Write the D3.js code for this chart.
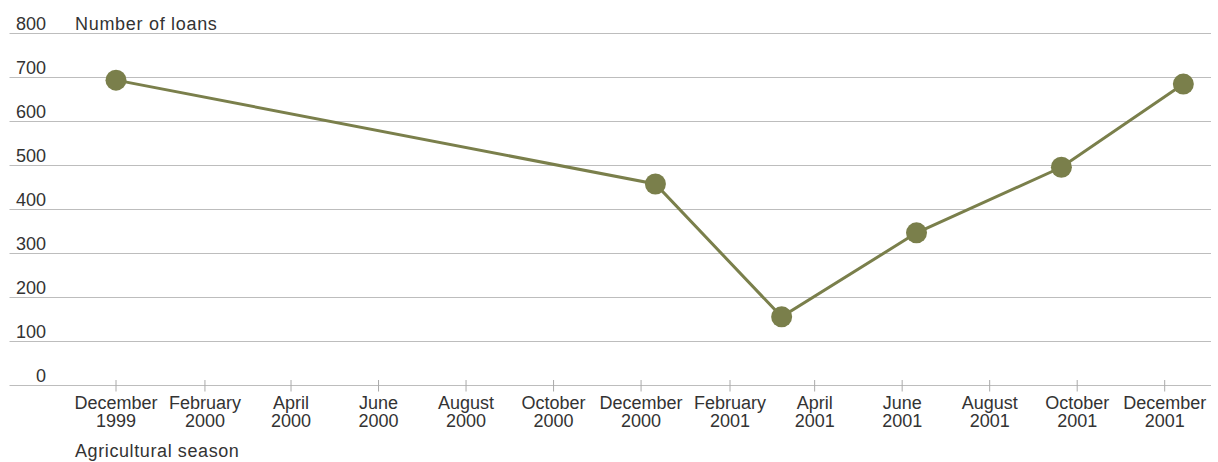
<!DOCTYPE html>
<html>
<head>
<meta charset="UTF-8" />
<title>Number of loans</title>
<script src="https://d3js.org/d3.v7.min.js"></script>
<style>
  body { margin: 0; background: #fff; }
  text { font-family: "Liberation Sans", Arial, Helvetica, sans-serif; fill: #333; }
</style>
</head>
<body>
<script type="text/javascript">

// loans per survey date
var dates = ["1999-12-01", "2000-12-11", "2001-03-09", "2001-06-11", "2001-09-20", "2001-12-14"]
var loans = [694, 458, 156, 347, 496, 685]

var tickDates = ["1999-12-01", "2000-02-01", "2000-04-01", "2000-06-01", "2000-08-01", "2000-10-01",
                 "2000-12-01", "2001-02-01", "2001-04-01", "2001-06-01", "2001-08-01", "2001-10-01", "2001-12-01"]
var tickMonths = ["December", "February", "April", "June", "August", "October",
                  "December", "February", "April", "June", "August", "October", "December"]
var tickYears = ["1999", "2000", "2000", "2000", "2000", "2000", "2000", "2001", "2001", "2001", "2001", "2001", "2001"]
var yTicks = [0, 100, 200, 300, 400, 500, 600, 700, 800]

var width = 1218
var height = 462
var olive = "#7a7f4b"

var parse = d3.timeParse("%Y-%m-%d")

var svg = d3.select("body").append("svg")
    .attr("width", width)
    .attr("height", height)

var x = d3.scaleTime()
    .domain([parse("1999-12-01"), parse("2001-12-01")])
    .range([116, 1164.7])

var y = d3.scaleLinear()
    .domain([0, 800])
    .range([385.5, 33.5])

// horizontal grid
svg.append("g")
    .selectAll("line")
    .data(yTicks)
    .enter().append("line")
    .attr("x1", 9.5)
    .attr("x2", 1211)
    .attr("y1", function(d) { return y(d) })
    .attr("y2", function(d) { return y(d) })
    .attr("stroke", "#bdbdbd")
    .attr("stroke-width", 1)

svg.append("g")
    .selectAll("text")
    .data(yTicks)
    .enter().append("text")
    .attr("x", 46)
    .attr("y", function(d) { return y(d) - 4 })
    .attr("text-anchor", "end")
    .style("font-size", "18px")
    .text(function(d) { return d })

svg.append("text")
    .attr("x", 75)
    .attr("y", 30)
    .style("font-size", "18px")
    .style("letter-spacing", "0.7px")
    .text("Number of loans")

// x ticks
var xt = svg.append("g")
    .selectAll("g")
    .data(tickDates)
    .enter().append("g")
    .attr("transform", function(d) { return "translate(" + x(parse(d)) + ",0)" })

xt.append("line")
    .attr("y1", 380)
    .attr("y2", 391.5)
    .attr("stroke", "#aaa")

xt.append("text")
    .attr("y", 409)
    .attr("text-anchor", "middle")
    .style("font-size", "18px")
    .text(function(d, i) { return tickMonths[i] })

xt.append("text")
    .attr("y", 427)
    .attr("text-anchor", "middle")
    .style("font-size", "18px")
    .text(function(d, i) { return tickYears[i] })

svg.append("text")
    .attr("x", 75)
    .attr("y", 457)
    .style("font-size", "18px")
    .style("letter-spacing", "0.6px")
    .text("Agricultural season")

// series
var pts = dates.map(function(d, i) { return { date: parse(d), value: loans[i] } })

var line = d3.line()
    .x(function(d) { return x(d.date) })
    .y(function(d) { return y(d.value) })

svg.append("path")
    .datum(pts)
    .attr("fill", "none")
    .attr("stroke", olive)
    .attr("stroke-width", 3)
    .attr("d", line)

svg.append("g")
    .selectAll("circle")
    .data(pts)
    .enter().append("circle")
    .attr("cx", function(d) { return x(d.date) })
    .attr("cy", function(d) { return y(d.value) })
    .attr("r", 10.5)
    .attr("fill", olive)

</script>
</body>
</html>
